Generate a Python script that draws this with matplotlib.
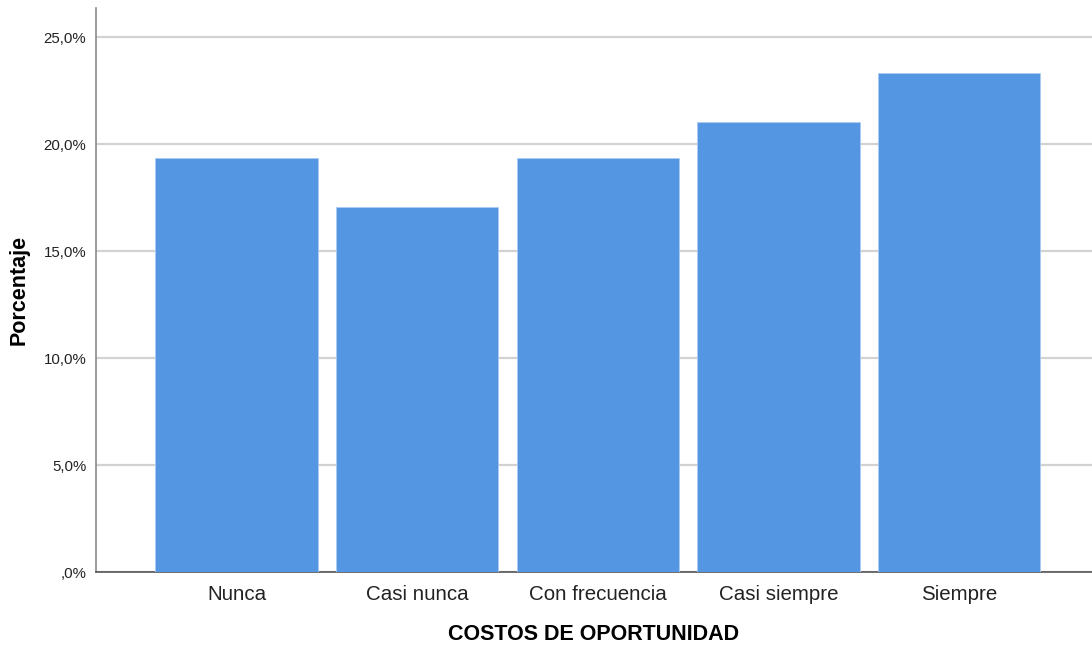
import matplotlib
matplotlib.use('Agg')
import matplotlib.pyplot as plt
from matplotlib.ticker import FuncFormatter

# Datos del gráfico
categorias = ['Nunca', 'Casi nunca', 'Con frecuencia', 'Casi siempre', 'Siempre']
porcentajes = [19.35, 17.05, 19.35, 21.05, 23.3]
ticks_y = [0, 5, 10, 15, 20, 25]

plt.rcParams['font.family'] = ['Liberation Sans', 'DejaVu Sans']

fig = plt.figure(figsize=(10.92, 6.48), dpi=100)
ax = fig.add_axes([96 / 1092, 76 / 648, 1 - 96 / 1092, (572 - 8) / 648])

x = range(len(categorias))
ax.bar(x, porcentajes, width=0.9, color='#5596e3', edgecolor='#a9cbf2',
       linewidth=0.6, zorder=3)

ax.set_xlim(-0.778, 4.736)
ax.set_ylim(0, 26.36)
ax.set_yticks(ticks_y)

def fmt(v, pos):
    s = f'{v:.1f}'.replace('.', ',')
    if s.startswith('0'):
        s = s[1:]
    return s + '%'

ax.yaxis.set_major_formatter(FuncFormatter(fmt))
ax.set_xticks(list(x))
ax.set_xticklabels(categorias, fontsize=14.8, color='#222222')
ax.tick_params(axis='y', length=0, pad=7, labelsize=10.8, labelcolor='#222222')
ax.tick_params(axis='x', length=0, pad=9.5)

ax.grid(axis='y', color='#d2d2d2', linewidth=1.6, zorder=0)
for s in ['top', 'right']:
    ax.spines[s].set_visible(False)
ax.spines['left'].set_color('#8a8a8a')
ax.spines['left'].set_linewidth(1.2)
ax.spines['bottom'].set_color('#555555')
ax.spines['bottom'].set_linewidth(1.2)

ax.set_ylabel('Porcentaje', fontsize=15.5, fontweight='bold', labelpad=10)
ax.set_xlabel('COSTOS DE OPORTUNIDAD', fontsize=15.5, fontweight='bold', labelpad=14)

fig.savefig('out.png', dpi=100)
